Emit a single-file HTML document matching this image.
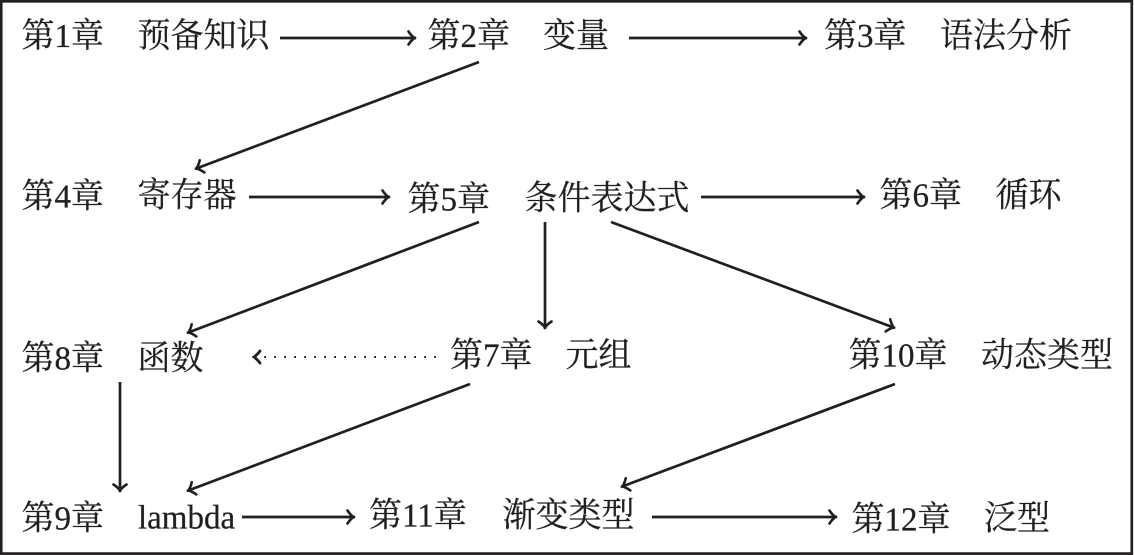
<!DOCTYPE html>
<html lang="zh">
<head>
<meta charset="utf-8">
<style>
html,body{margin:0;padding:0;background:#fff;}
svg{display:block;}
text{font-family:"Liberation Serif","Noto Serif CJK SC",serif;font-size:33px;fill:#231f20;stroke:#231f20;stroke-width:.25;transform-box:fill-box;transform-origin:center;transform:scaleY(1.03);}
.l{stroke:#231f20;stroke-width:2.7;fill:none;}
.h{stroke:#231f20;fill:none;stroke-linecap:round;stroke-linejoin:miter;}
</style>
</head>
<body>
<svg width="1134" height="555" viewBox="0 0 1134 555" xmlns="http://www.w3.org/2000/svg">
<defs>
<marker id="a" markerUnits="userSpaceOnUse" markerWidth="16" markerHeight="16" refX="11.5" refY="8" orient="auto" overflow="visible">
<path d="M4 1.5 Q7 6 10 8 Q7 10 4 14.5" class="h" style="stroke-width:2.6"/>
</marker>
</defs>
<rect x="1.2" y="1.3" width="1130.6" height="552.3" fill="#fff" stroke="#231f20" stroke-width="2.7"/>

<text x="21.5" y="46.5">第1章</text><text x="137.5" y="46.5">预备知识</text>
<text x="427.5" y="46.5">第2章</text><text x="543" y="46.5">变量</text>
<text x="824" y="46.5">第3章</text><text x="940" y="46.5">语法分析</text>

<text x="21.5" y="207">第4章</text><text x="137.5" y="206">寄存器</text>
<text x="407.5" y="210">第5章</text><text x="524.5" y="209">条件表达式</text>
<text x="879.5" y="206">第6章</text><text x="995.5" y="206">循环</text>

<text x="21.5" y="369">第8章</text><text x="137.5" y="369">函数</text>
<text x="450" y="366">第7章</text><text x="565.5" y="366">元组</text>
<text x="848.5" y="366">第10章</text><text x="981" y="366">动态类型</text>

<text x="21.5" y="529">第9章</text><text x="138" y="528">lambda</text>
<text x="369" y="526">第11章</text><text x="502.5" y="526">渐变类型</text>
<text x="851.5" y="530">第12章</text><text x="984" y="529">泛型</text>

<line class="l" x1="280" y1="38" x2="416" y2="38" marker-end="url(#a)"/>
<line class="l" x1="629" y1="38" x2="807" y2="38" marker-end="url(#a)"/>
<line class="l" x1="479" y1="62" x2="195" y2="169" marker-end="url(#a)"/>
<line class="l" x1="249" y1="197" x2="390" y2="197" marker-end="url(#a)"/>
<line class="l" x1="701" y1="197" x2="865" y2="197" marker-end="url(#a)"/>
<line class="l" x1="479" y1="222" x2="187" y2="333" marker-end="url(#a)"/>
<line class="l" x1="545" y1="222" x2="545" y2="329" marker-end="url(#a)"/>
<line class="l" x1="611" y1="222" x2="895" y2="328" marker-end="url(#a)"/>
<line class="l" x1="120" y1="382" x2="120" y2="492" marker-end="url(#a)"/>
<line class="l" x1="470" y1="384" x2="187" y2="491" marker-end="url(#a)"/>
<line class="l" x1="242" y1="517" x2="355" y2="517" marker-end="url(#a)"/>
<line class="l" x1="895" y1="384" x2="621" y2="487" marker-end="url(#a)"/>
<line class="l" x1="652" y1="517" x2="837" y2="517" marker-end="url(#a)"/>
<line x1="436" y1="357" x2="264" y2="357" stroke="#231f20" stroke-width="2" stroke-dasharray="1.8 8.2"/>
<path d="M260 351 Q257 355 254 357 Q257 359 260 363" class="h" style="stroke-width:2.8"/>
</svg>
</body>
</html>
